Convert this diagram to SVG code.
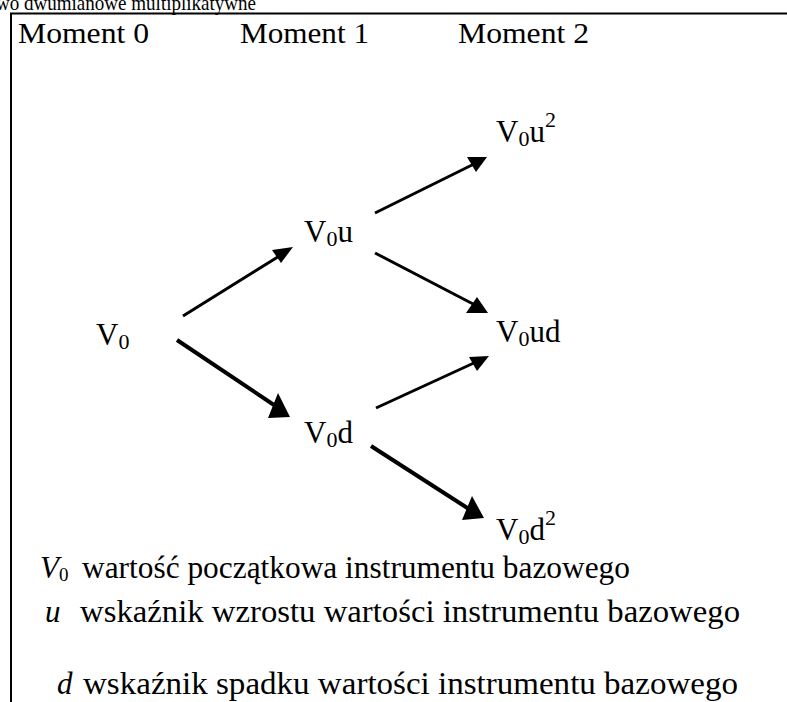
<svg xmlns="http://www.w3.org/2000/svg" width="787" height="702" viewBox="0 0 787 702" font-family="'Liberation Serif', 'Times New Roman', serif">
<style>
text { font-family: "Liberation Serif", "Times New Roman", "DejaVu Serif", serif; fill: #000; }
.mom { font-size: 29px; }
.lbl { font-size: 31px; }
.sub { font-size: 22px; }
.lsub { font-size: 19px; font-style: normal; }
.leg { font-size: 31px; }
.it { font-style: italic; }
.ln { stroke: #000; stroke-width: 3; fill: none; }
.lnb { stroke: #000; stroke-width: 4; fill: none; }
.hd { fill: #000; stroke: none; }
</style>
<rect width="787" height="702" fill="#fff"/>
<text x="-4" y="10" style="font-size:22px" textLength="260" lengthAdjust="spacingAndGlyphs">wo dwumianowe multiplikatywne</text>
<g id="frame">
<line x1="10" y1="13.5" x2="787" y2="13.5" stroke="#000" stroke-width="2"/>
<line x1="11" y1="13" x2="11" y2="702" stroke="#000" stroke-width="2"/>
</g>
<g id="headers">
<text class="mom" x="18" y="43" textLength="131" lengthAdjust="spacingAndGlyphs">Moment 0</text>
<text class="mom" x="240" y="43" textLength="129" lengthAdjust="spacingAndGlyphs">Moment 1</text>
<text class="mom" x="458" y="43" textLength="131" lengthAdjust="spacingAndGlyphs">Moment 2</text>
</g>
<g id="connectors">
<line class="ln" x1="183" y1="316" x2="281" y2="255"/>
<polygon class="hd" points="293,247 272,250 281,263"/>
<line class="lnb" x1="177" y1="340" x2="280" y2="409"/>
<polygon class="hd" points="290,417 268,418 278,393"/>
<line class="ln" x1="375" y1="213" x2="474" y2="164"/>
<polygon class="hd" points="487,157 467,157 476,172"/>
<line class="ln" x1="375" y1="253" x2="475" y2="305"/>
<polygon class="hd" points="488,313 466,313 477,297"/>
<line class="ln" x1="376" y1="408" x2="476" y2="362"/>
<polygon class="hd" points="489,356 469,357 477,371"/>
<line class="lnb" x1="371" y1="446" x2="472" y2="511"/>
<polygon class="hd" points="484,518 462,520 472,496"/>
</g>
<g id="n-v0"><text class="lbl" x="96" y="345">V<tspan class="sub" dy="4">0</tspan></text></g>
<g id="n-v0u"><text class="lbl" x="304" y="242">V<tspan class="sub" dy="4">0</tspan><tspan dy="-4">u</tspan></text></g>
<g id="n-v0d"><text class="lbl" x="304" y="443">V<tspan class="sub" dy="4">0</tspan><tspan dy="-4">d</tspan></text></g>
<g id="n-v0u2"><text class="lbl" x="496" y="142">V<tspan class="sub" dy="4">0</tspan><tspan dy="-4">u</tspan><tspan class="sub" dy="-15">2</tspan></text></g>
<g id="n-v0ud"><text class="lbl" x="496" y="342">V<tspan class="sub" dy="4">0</tspan><tspan dy="-4">ud</tspan></text></g>
<g id="n-v0d2"><text class="lbl" x="496" y="540">V<tspan class="sub" dy="4">0</tspan><tspan dy="-4">d</tspan><tspan class="sub" dy="-15">2</tspan></text></g>
<g id="legend">
<text class="leg it" x="40" y="578">V<tspan class="lsub" dy="3">0</tspan></text>
<text class="leg" x="82" y="578" textLength="548" lengthAdjust="spacingAndGlyphs">wartość początkowa instrumentu bazowego</text>
<text class="leg it" x="45" y="622">u</text>
<text class="leg" x="80" y="622" textLength="660" lengthAdjust="spacingAndGlyphs">wskaźnik wzrostu wartości instrumentu bazowego</text>
<text class="leg it" x="57" y="694">d</text>
<text class="leg" x="83" y="694" textLength="655" lengthAdjust="spacingAndGlyphs">wskaźnik spadku wartości instrumentu bazowego</text>
</g>
</svg>
